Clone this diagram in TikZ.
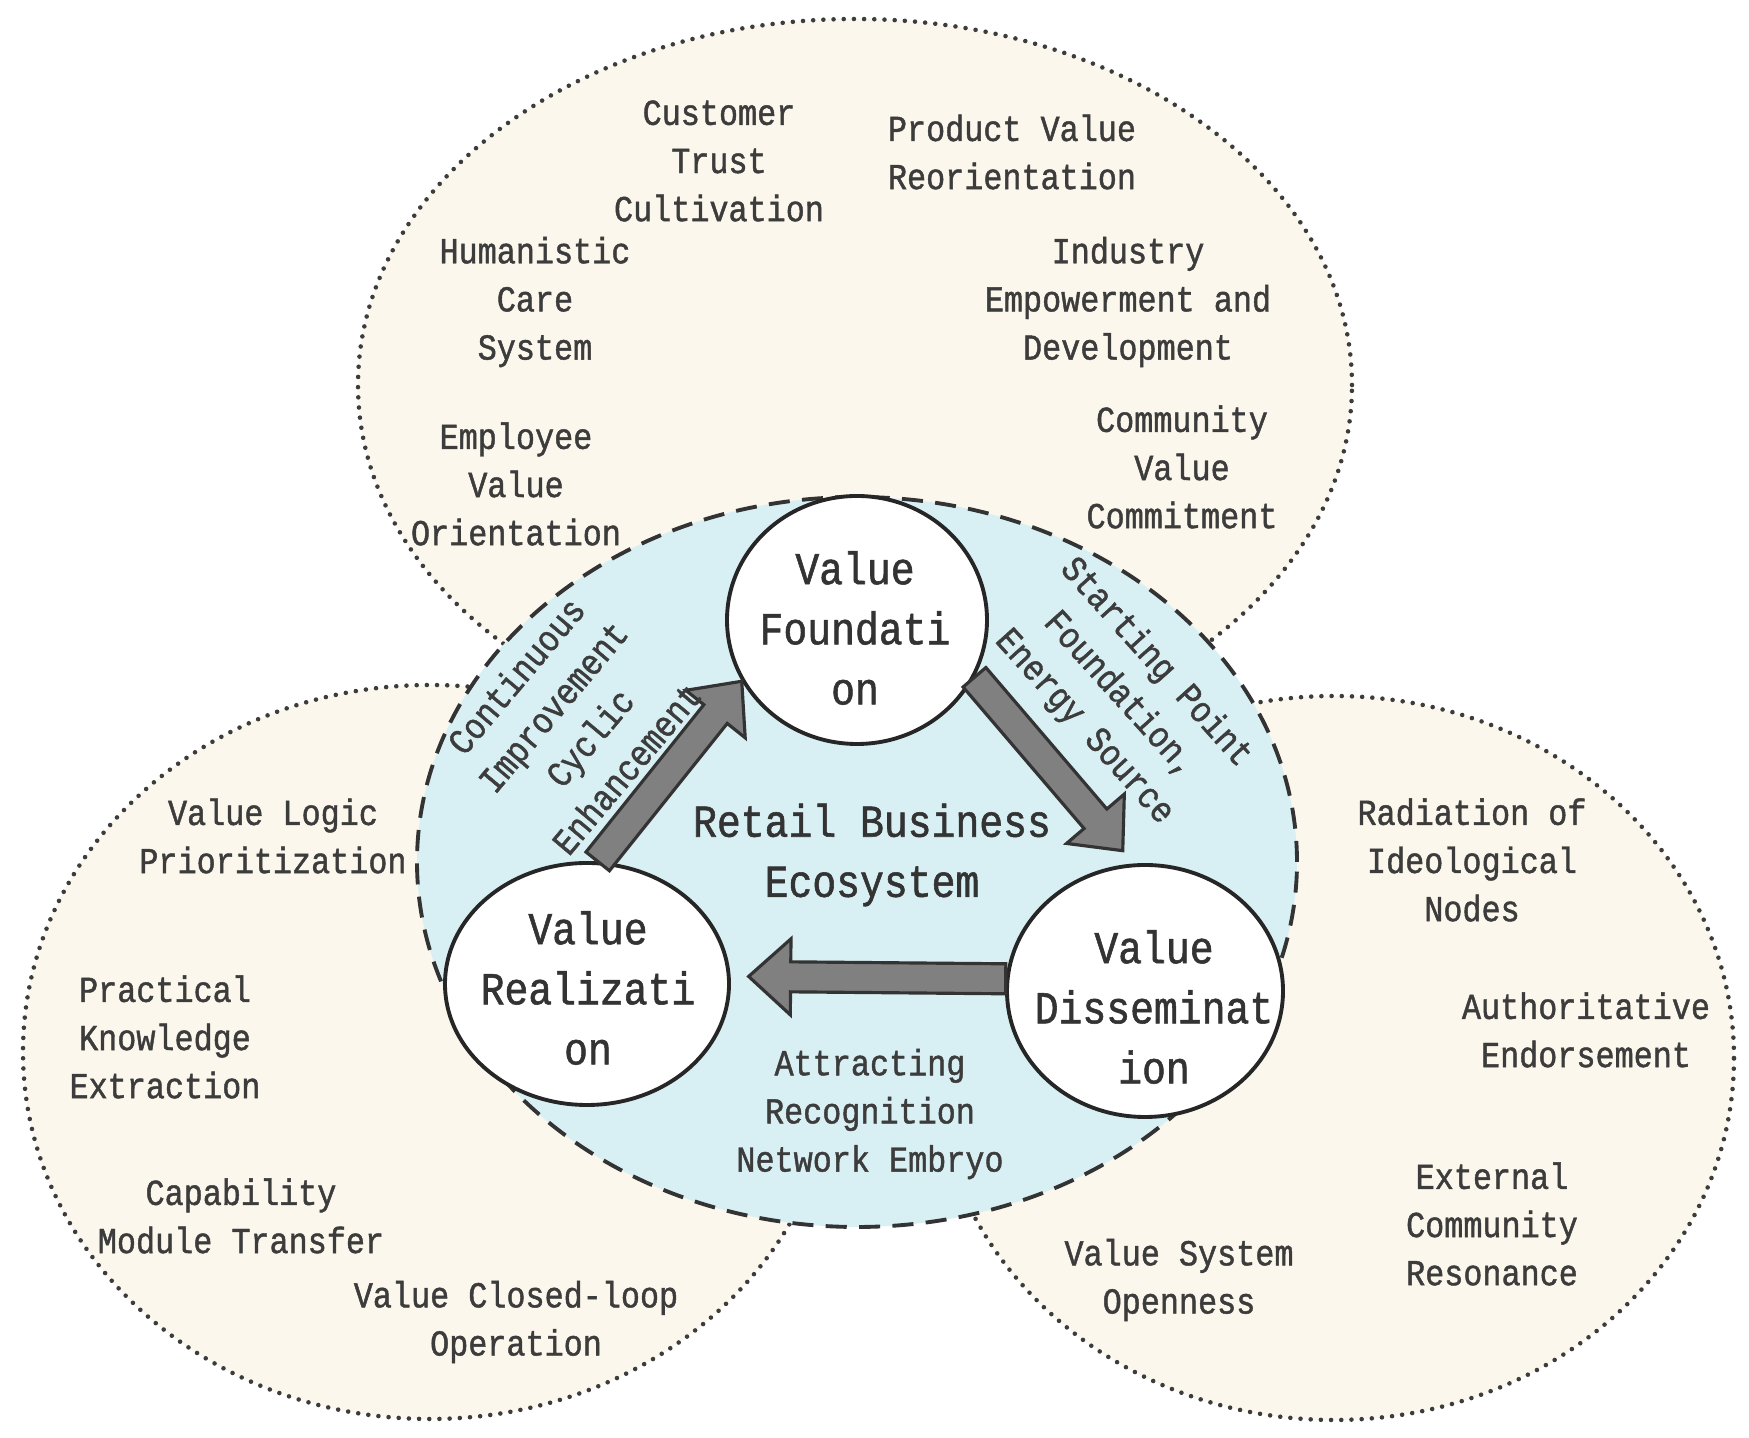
\documentclass[tikz,border=0pt]{standalone}
\usepackage{fontspec}
\newfontfamily\diagfont[FakeStretch=0.87,FakeBold=1.2]{Liberation Mono}
\usetikzlibrary{shapes.geometric,calc}
\definecolor{zonecream}{RGB}{251,247,236}
\definecolor{corecyan}{RGB}{216,240,244}
\definecolor{flowgray}{RGB}{128,128,128}
\definecolor{inkgray}{RGB}{60,60,60}
\tikzset{
  zone/.style={fill=zonecream, draw=inkgray, line width=1.3pt, dash pattern=on 0pt off 2.9pt, line cap=round},
  core/.style={fill=corecyan, draw=black!80, line width=1.1pt, dash pattern=on 6pt off 3.5pt},
  hub/.style={ellipse, draw=black!85, fill=white, line width=1.1pt, inner sep=0pt},
  note/.style={align=center, text=inkgray, font=\diagfont\fontsize{10.4}{13.7}\selectfont},
  bignote/.style={align=center, text=black!80, font=\diagfont\fontsize{13}{17.1}\selectfont},
  flow/.style={fill=flowgray, draw=black!80, line width=0.9pt, line join=miter}
}
% block arrow from #1 to #2
\newcommand{\flowarrow}[2]{%
  \coordinate (fs) at #1;
  \coordinate (fe) at #2;
  \coordinate (fb) at ($(fe)!0.42cm!(fs)$);
  \filldraw[flow] ($(fs)!0.15cm!90:(fe)$) -- ($(fb)!0.15cm!-90:(fs)$) -- ($(fb)!0.38cm!-90:(fs)$) -- (fe)
    -- ($(fb)!0.38cm!90:(fs)$) -- ($(fb)!0.15cm!90:(fs)$) -- ($(fs)!0.15cm!-90:(fe)$) -- cycle;}
\begin{document}
\begin{tikzpicture}
	\useasboundingbox (0,0) rectangle (17.49,14.38);
	% outer zones
	\draw[zone] (8.55,10.53) ellipse [x radius=4.97, y radius=3.66];
	\draw[zone] (4.30,3.86) ellipse [x radius=4.07, y radius=3.67];
	\draw[zone] (13.34,3.80) ellipse [x radius=4.00, y radius=3.62];
	\draw[core] (8.57,5.76) ellipse [x radius=4.40, y radius=3.65];
	% three stages
	\node[hub, minimum width=2.60cm, minimum height=2.48cm] (found) at (8.57,8.18) {};
	\node[hub, minimum width=2.84cm, minimum height=2.42cm] (real) at (5.87,4.54) {};
	\node[hub, minimum width=2.76cm, minimum height=2.52cm] (diss) at (11.45,4.47) {};
	\node[bignote] at (8.55,8.10) {Value\\Foundati\\on};
	\node[bignote] at (5.88,4.50) {Value\\Realizati\\on};
	\node[bignote] at (11.54,4.31) {Value\\Disseminat\\ion};
	\flowarrow{(real.85)}{(found.208)}
	\flowarrow{(found.-26)}{([yshift=0.14cm]diss.100)}
	\flowarrow{(diss.175)}{([xshift=0.18cm]real.3)}
	% centre texts
	\node[bignote] at (8.72,5.83) {Retail Business\\Ecosystem};
	\node[note, rotate=50] at (5.71,7.16) {Continuous\\Improvement\\Cyclic\\Enhancement};
	\node[note, rotate=-48] at (11.20,7.43) {Starting Point\\Foundation,\\Energy Source};
	\node[note] at (8.70,3.24) {Attracting\\Recognition\\Network Embryo};
	% top zone
	\node[note] at (7.19,12.77) {Customer\\Trust\\Cultivation};
	\node[note] at (10.12,12.86) {Product Value\\Reorientation};
	\node[note] at (5.35,11.36) {Humanistic\\Care\\System};
	\node[note] at (11.28,11.36) {Industry\\Empowerment and\\Development};
	\node[note] at (5.16,9.54) {Employee\\Value\\Orientation};
	\node[note] at (11.82,9.71) {Community\\Value\\Commitment};
	% left zone
	\node[note] at (2.73,6.02) {Value Logic\\Prioritization};
	\node[note] at (1.65,4.01) {Practical\\Knowledge\\Extraction};
	\node[note] at (2.41,2.22) {Capability\\Module Transfer};
	\node[note] at (5.16,1.16) {Value Closed-loop\\Operation};
	% right zone
	\node[note] at (14.72,5.78) {Radiation of\\Ideological\\Nodes};
	\node[note] at (15.86,4.08) {Authoritative\\Endorsement};
	\node[note] at (14.92,2.14) {External\\Community\\Resonance};
	\node[note] at (11.79,1.58) {Value System\\Openness};
\end{tikzpicture}
\end{document}
